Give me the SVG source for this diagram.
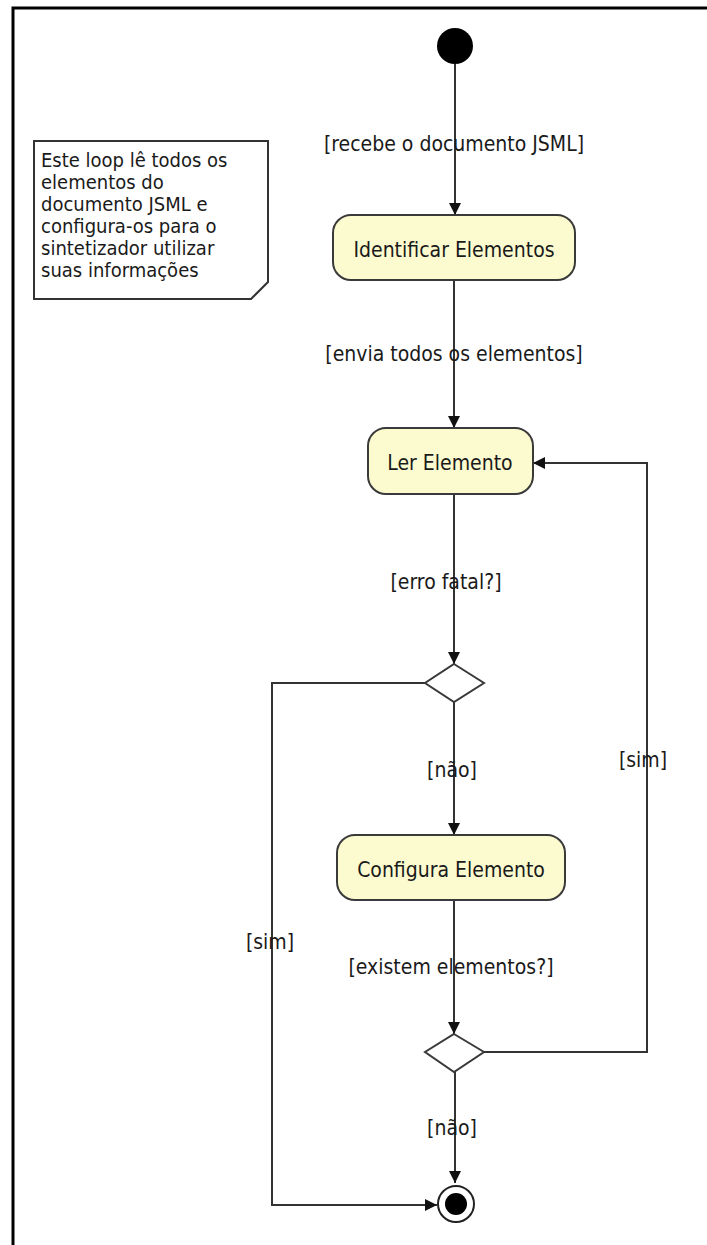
<svg xmlns="http://www.w3.org/2000/svg" width="707" height="1245" viewBox="0 0 707 1245">
  <style>
    .frame { fill: none; stroke: #000; stroke-width: 3; }
    .action rect { fill: #fbfbcf; stroke: #3a3a3a; stroke-width: 2; }
    .decision polygon { fill: #fff; stroke: #3a3a3a; stroke-width: 2; }
    .edge { fill: none; stroke: #333; stroke-width: 2; }
    text { font-family: "DejaVu Sans Condensed", "DejaVu Sans", sans-serif; font-size: 21px; fill: #1a1a1a; }
    .lbl { text-anchor: middle; }
    .note path { fill: #fff; stroke: #333; stroke-width: 2; }
    .note text { font-size: 20px; }
  </style>
  <defs>
    <marker id="arrow" viewBox="0 0 12 12" refX="12" refY="6" markerWidth="12" markerHeight="12" markerUnits="userSpaceOnUse" orient="auto">
      <path d="M0,0 L12,6 L0,12 Z" fill="#111"/>
    </marker>
  </defs>

  <rect width="707" height="1245" fill="#fff"/>
  <!-- outer frame (top and left edges) -->
  <path class="frame" d="M13,1245 V8 H707"/>

  <!-- connectors -->
  <g id="connectors">
    <path class="edge" d="M455,64 V215" marker-end="url(#arrow)"/>
    <path class="edge" d="M454,280 V428" marker-end="url(#arrow)"/>
    <path class="edge" d="M454,494 V664" marker-end="url(#arrow)"/>
    <path class="edge" d="M454,702 V835" marker-end="url(#arrow)"/>
    <path class="edge" d="M454,900 V1034" marker-end="url(#arrow)"/>
    <path class="edge" d="M484,1052 H647 V463 H533" marker-end="url(#arrow)"/>
    <path class="edge" d="M455,1072 V1183" marker-end="url(#arrow)"/>
    <path class="edge" d="M425,683 H272 V1205 H437" marker-end="url(#arrow)"/>

    <text class="lbl" x="454" y="151">[recebe o documento JSML]</text>
    <text class="lbl" x="454" y="361">[envia todos os elementos]</text>
    <text class="lbl" x="446" y="589">[erro fatal?]</text>
    <text class="lbl" x="452" y="777">[não]</text>
    <text class="lbl" x="643" y="767">[sim]</text>
    <text class="lbl" x="451" y="974">[existem elementos?]</text>
    <text class="lbl" x="270" y="949">[sim]</text>
    <text class="lbl" x="452" y="1135">[não]</text>
  </g>

  <!-- note -->
  <g id="note" class="note">
    <path d="M34,141 H268 V282 L251,299 H34 Z"/>
    <text x="41" y="167">Este loop lê todos os</text>
    <text x="41" y="189">elementos do</text>
    <text x="41" y="211">documento JSML e</text>
    <text x="41" y="233">configura-os para o</text>
    <text x="41" y="255">sintetizador utilizar</text>
    <text x="41" y="277">suas informações</text>
  </g>

  <!-- initial node -->
  <g id="start">
    <circle cx="455" cy="46" r="18" fill="#000"/>
  </g>

  <g id="identificar" class="action">
    <rect x="333" y="215" width="242" height="65" rx="18"/>
    <text class="lbl" x="454" y="257">Identificar Elementos</text>
  </g>

  <g id="ler" class="action">
    <rect x="368" y="428" width="165" height="66" rx="18"/>
    <text class="lbl" x="450" y="470">Ler Elemento</text>
  </g>

  <g id="decisao1" class="decision">
    <polygon points="454,664 484,683 454,702 425,683"/>
  </g>

  <g id="configura" class="action">
    <rect x="337" y="835" width="228" height="65" rx="18"/>
    <text class="lbl" x="451" y="877">Configura Elemento</text>
  </g>

  <g id="decisao2" class="decision">
    <polygon points="454,1034 484,1052 454,1072 425,1052"/>
  </g>

  <!-- final node -->
  <g id="fim">
    <circle cx="456" cy="1204" r="18" fill="#fff" stroke="#222" stroke-width="2"/>
    <circle cx="456" cy="1204" r="11" fill="#000"/>
  </g>
</svg>
